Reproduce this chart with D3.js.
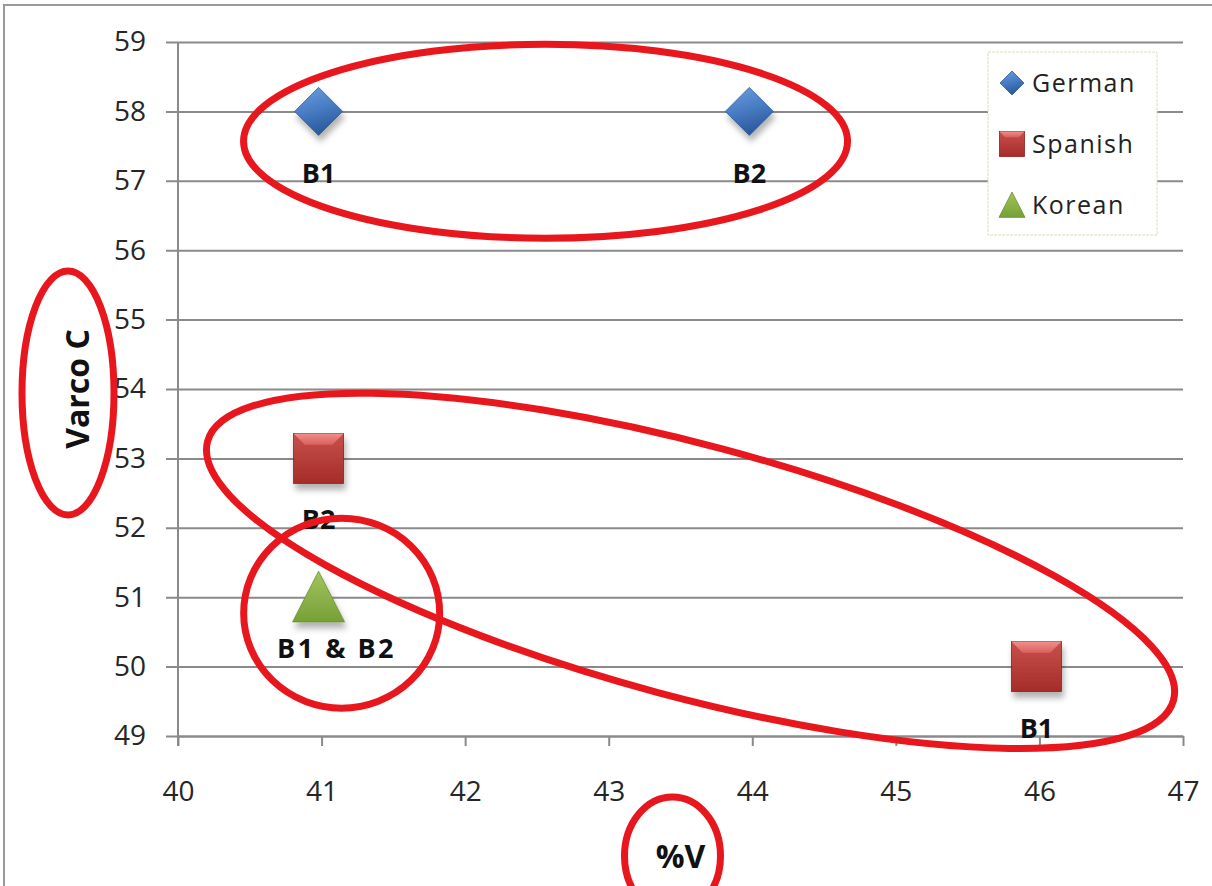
<!DOCTYPE html>
<html>

<head>
    <meta charset="utf-8">
    <style>
        body {
            margin: 0;
            background: #fff;
        }

        svg {
            display: block;
            font-family: "Open Sans", sans-serif;
        }

        .axis .domain {
            stroke: #8a8a8a;
            stroke-width: 2;
        }

        .axis .tick line {
            stroke: #8a8a8a;
            stroke-width: 2;
        }

        .axis .tick text {
            font-size: 28px;
            fill: #262626;
            font-family: "Open Sans", sans-serif;
        }

        .point-label {
            font-size: 27px;
            font-weight: 700;
            fill: #111;
        }

        .axis-title {
            font-size: 32px;
            font-weight: 700;
            fill: #111;
        }

        .legend-text {
            font-size: 25px;
            fill: #222;
            letter-spacing: 1.5px;
        }
    </style>
</head>

<body>
    <svg width="1212" height="886"></svg>

    <script src="https://d3js.org/d3.v7.min.js"></script>
    <script>
        // data
        const seriesNames = ["German", "Spanish", "Korean"]

        const germanX = [41, 44]
        const germanY = [58, 58]
        const germanLabels = ["B1", "B2"]

        const spanishX = [41, 46]
        const spanishY = [53, 50]
        const spanishLabels = ["B2", "B1"]

        const koreanX = [41]
        const koreanY = [51]
        const koreanLabels = ["B1 & B2"]

        const xTicks = [40, 41, 42, 43, 44, 45, 46, 47]
        const yTicks = [49, 50, 51, 52, 53, 54, 55, 56, 57, 58, 59]

        const xTitle = "%V"
        const yTitle = "Varco C"

        let width = 1212
        let height = 886
        let margin = { top: 42, right: 29, bottom: 150, left: 178 }

        let svg = d3.select("svg")

        // outer frame of the chart area
        svg.append("path")
            .attr("d", `M4,${height} V5 H${width}`)
            .attr("fill", "none")
            .attr("stroke", "#9a9a9a")
            .attr("stroke-width", 2)

        let x = d3.scaleLinear()
            .domain(d3.extent(xTicks))
            .range([margin.left, width - margin.right])

        let y = d3.scaleLinear()
            .domain(d3.extent(yTicks))
            .range([height - margin.bottom, margin.top])

        // marker look per series
        let look = {
            German: { shape: "diamond", size: 24, labelDy: 72, labelDx: 0, spacing: 0 },
            Spanish: { shape: "square", size: 25, labelDy: 71, labelDx: 0, spacing: 0 },
            Korean: { shape: "triangle", size: 26, labelDy: 61, labelDx: 18, spacing: 2.5 }
        }

        let points = []
        germanX.forEach((v, i) => points.push({ series: "German", x: v, y: germanY[i], label: germanLabels[i] }))
        spanishX.forEach((v, i) => points.push({ series: "Spanish", x: v, y: spanishY[i], label: spanishLabels[i] }))
        koreanX.forEach((v, i) => points.push({ series: "Korean", x: v, y: koreanY[i], label: koreanLabels[i] }))

        // gradients + shadow
        let defs = svg.append("defs")

        let grad = (id, stops, x2, y2) => {
            let g = defs.append("linearGradient").attr("id", id)
                .attr("x1", 0).attr("y1", 0).attr("x2", x2).attr("y2", y2)
            stops.forEach(s => g.append("stop").attr("offset", s[0]).attr("stop-color", s[1]))
        }
        grad("g-blue", [[0, "#6d9ee0"], [0.5, "#4a7fc6"], [1, "#2d5a9e"]], 0.3, 1)
        grad("g-red", [[0, "#c9504d"], [1, "#a52c29"]], 0, 1)
        grad("g-red-top", [[0, "#f0908c"], [1, "#d9605c"]], 0, 1)
        grad("g-green", [[0, "#a3c45e"], [1, "#77a037"]], 0, 1)

        let shadow = defs.append("filter").attr("id", "shadow")
            .attr("x", "-50%").attr("y", "-50%").attr("width", "200%").attr("height", "200%")
        shadow.append("feDropShadow")
            .attr("dx", 2).attr("dy", 6)
            .attr("stdDeviation", 3)
            .attr("flood-color", "#000")
            .attr("flood-opacity", 0.3)

        function drawMarker(g, shape, s) {
            if (shape === "diamond") {
                g.append("path")
                    .attr("d", `M0,${-s} L${s},0 L0,${s} L${-s},0 Z`)
                    .attr("fill", "url(#g-blue)")
                    .attr("stroke", "#2d5a96")
                    .attr("stroke-width", 0.8)
            } else if (shape === "square") {
                g.append("rect")
                    .attr("x", -s).attr("y", -s)
                    .attr("width", 2 * s).attr("height", 2 * s)
                    .attr("fill", "url(#g-red)")
                    .attr("stroke", "#8a2220")
                    .attr("stroke-width", 0.8)
                let b = s * 0.45
                g.append("path")
                    .attr("d", `M${-s},${-s} H${s} L${s - b},${-s + b} H${-s + b} Z`)
                    .attr("fill", "url(#g-red-top)")
            } else {
                g.append("path")
                    .attr("d", `M0,${-s} L${s},${s * 0.95} L${-s},${s * 0.95} Z`)
                    .attr("fill", "url(#g-green)")
                    .attr("stroke", "#6a8f30")
                    .attr("stroke-width", 0.8)
            }
        }

        // y axis: ticks poke left, grid runs right
        let yAxisSettings = d3.axisLeft(y)
            .tickValues(yTicks)
            .tickSize(-(width - margin.right - margin.left + 12))
            .tickPadding(20)
            .tickFormat(d3.format("d"))

        svg.append("g")
            .attr("class", "y axis")
            .attr("transform", `translate(${margin.left - 12},0)`)
            .call(yAxisSettings)
            .call(g => g.select(".domain").remove())

        // x axis
        let xAxisSettings = d3.axisBottom(x)
            .tickValues(xTicks)
            .tickSize(10)
            .tickSizeOuter(0)
            .tickPadding(35)
            .tickFormat(d3.format("d"))

        svg.append("g")
            .attr("class", "x axis")
            .attr("transform", `translate(0,${y(yTicks[0])})`)
            .call(xAxisSettings)

        // vertical axis line
        svg.append("line")
            .attr("x1", x(xTicks[0])).attr("x2", x(xTicks[0]))
            .attr("y1", y(d3.max(yTicks))).attr("y2", y(yTicks[0]) + 10)
            .attr("stroke", "#8a8a8a")
            .attr("stroke-width", 2)

        // points
        let pts = svg.append("g")
            .selectAll("g")
            .data(points)
            .join("g")
            .attr("transform", d => `translate(${x(d.x) - 3},${y(d.y)})`)

        pts.each(function (d) {
            let g = d3.select(this).append("g").attr("filter", "url(#shadow)")
            drawMarker(g, look[d.series].shape, look[d.series].size)
        })

        pts.append("text")
            .attr("class", "point-label")
            .attr("text-anchor", "middle")
            .attr("x", d => look[d.series].labelDx)
            .attr("y", d => look[d.series].labelDy)
            .style("letter-spacing", d => look[d.series].spacing + "px")
            .text(d => d.label)

        // legend
        let legend = svg.append("g")
            .attr("transform", "translate(988,52)")

        legend.append("rect")
            .attr("width", 169)
            .attr("height", 183)
            .attr("fill", "#fff")
            .attr("stroke", "#dcdcb8")
            .attr("stroke-width", 1)
            .attr("stroke-dasharray", "3,1")

        let items = legend.selectAll(".item")
            .data(seriesNames)
            .join("g")
            .attr("class", "item")
            .attr("transform", (d, i) => `translate(24,${31 + i * 61})`)

        items.each(function (d) {
            drawMarker(d3.select(this), look[d].shape, look[d].size * 0.5)
        })

        items.append("text")
            .attr("class", "legend-text")
            .attr("x", 20)
            .attr("dy", "0.35em")
            .text(d => d)

        // axis titles
        let midX = (x.range()[0] + x.range()[1]) / 2
        let midY = (y.range()[0] + y.range()[1]) / 2

        svg.append("text")
            .attr("class", "axis-title")
            .attr("text-anchor", "middle")
            .attr("transform", `translate(${x(xTicks[0]) - 100},${midY}) rotate(-90)`)
            .attr("dy", "0.35em")
            .text(yTitle)

        svg.append("text")
            .attr("class", "axis-title")
            .attr("text-anchor", "middle")
            .attr("x", midX)
            .attr("y", height - 29)
            .attr("dy", "0.35em")
            .text(xTitle)

        // red hand-drawn rings, centres in data units
        let rings = [
            { cx: x(42.56), cy: y(57.57), rx: 302, ry: 97, rot: 0 },
            { cx: x(43.57), cy: y(51.38), rx: 500, ry: 126, rot: 15 },
            { cx: x(41.14), cy: y(50.77), rx: 98, ry: 95, rot: 0 },
            { cx: x(xTicks[0]) - 110, cy: midY + 4, rx: 46, ry: 122, rot: 0 },
            { cx: midX - 8, cy: height - 30, rx: 48, ry: 59, rot: 0 }
        ]

        svg.append("g")
            .selectAll("ellipse")
            .data(rings)
            .join("ellipse")
            .attr("transform", d => `translate(${d.cx},${d.cy}) rotate(${d.rot})`)
            .attr("rx", d => d.rx)
            .attr("ry", d => d.ry)
            .attr("fill", "none")
            .attr("stroke", "#e8171e")
            .attr("stroke-width", 7)
    </script>
</body>

</html>
